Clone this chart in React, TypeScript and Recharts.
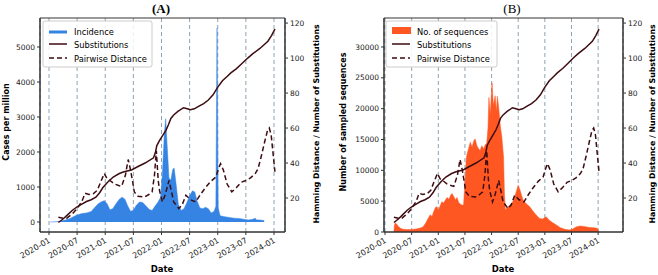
import React from "react";
import { ComposedChart, Area, Line, XAxis, YAxis, CartesianGrid, ReferenceArea } from "recharts";

type Pt = [number, number];

// x values are months since 2020-01
const monthTicks = [0, 6, 12, 18, 24, 30, 36, 42, 48];
const monthLabels = ["2020-01", "2020-07", "2021-01", "2021-07", "2022-01", "2022-07", "2023-01", "2023-07", "2024-01"];

const casesTicks = [0, 1000, 2000, 3000, 4000, 5000];
const seqTicks = [0, 5000, 10000, 15000, 20000, 25000, 30000];
const distTicks = [20, 40, 60, 80, 100, 120];

const incidence: Pt[] = [
  [0.2, 0], [1.5, 5], [2.5, 20], [3.5, 60], [4.5, 100], [5.5, 170], [6, 200], [7, 240], [8, 260], [9, 300],
  [9.8, 420], [10.5, 520], [11.2, 580], [11.8, 610], [12.4, 520], [13, 350], [13.6, 380], [14.3, 520], [15, 650],
  [15.6, 710], [16.2, 650], [16.8, 460], [17.4, 310], [18, 330], [18.6, 470], [19.3, 570], [20, 560], [20.7, 460],
  [21.4, 360], [22, 330], [22.6, 450], [23.2, 560], [23.8, 700], [24.2, 1400], [24.6, 2500], [24.9, 2950],
  [25.2, 2200], [25.6, 1250], [26, 1200], [26.4, 1500], [26.7, 1540], [27.1, 1100], [27.6, 500], [28.2, 330],
  [28.8, 380], [29.4, 550], [30, 750], [30.6, 890], [31.1, 860], [31.6, 600], [32.2, 400], [32.8, 380], [33.4, 420],
  [34, 380], [34.6, 260], [35.2, 300], [35.6, 450], [35.85, 5540], [36.1, 400], [36.5, 180], [37.5, 150],
  [38.5, 130], [39.5, 110], [40.5, 100], [41.5, 80], [42.5, 60], [43.5, 80], [44, 110], [44.3, 60], [45, 60], [45.9, 40],
];

const sequences: Pt[] = [
  [2.0, 0], [2.1, 1000], [2.3, 1500], [2.6, 1300], [3.0, 900], [3.5, 600], [4, 450], [5, 400], [6, 420], [7, 480],
  [8, 650], [8.6, 860], [9.2, 1500], [9.7, 2200], [10.2, 2800], [10.6, 2500], [11, 3400], [11.4, 4000], [11.7, 4100],
  [12, 3500], [12.4, 4200], [12.8, 4900], [13.2, 4700], [13.6, 5200], [14, 5600], [14.4, 5300], [14.8, 6000],
  [15.1, 6240], [15.5, 5700], [15.9, 5200], [16.2, 5600], [16.6, 4800], [17, 4500], [17.4, 4350], [17.7, 4400],
  [18.0, 8000], [18.3, 12000], [18.5, 12700], [18.8, 13500], [19.2, 14560], [19.6, 13800], [20, 14800],
  [20.3, 15100], [20.7, 14000], [21, 13600], [21.4, 13200], [21.8, 14000], [22.2, 13500], [22.6, 14200],
  [22.9, 14300], [23.2, 17000], [23.4, 21800], [23.7, 19000], [24.1, 24200], [24.4, 20500], [24.8, 22100],
  [25.1, 19500], [25.3, 22000], [25.6, 20200], [26, 17000], [26.3, 15500], [26.7, 12150], [26.9, 6000],
  [27.1, 3550], [27.6, 4000], [28, 4300], [28.5, 4630], [29, 5200], [29.5, 6400], [30, 7580], [30.4, 6800],
  [31.1, 5160], [31.8, 4600], [32.6, 4090], [33.3, 3400], [34, 2800], [34.8, 2200], [35.5, 2100], [36.3, 2470],
  [37, 1900], [37.8, 1500], [38.6, 1130], [39.5, 700], [40.5, 450], [41.6, 320], [42.3, 500], [43, 800],
  [43.9, 970], [44.8, 900], [45.5, 800], [46.1, 750], [47, 700], [47.8, 600], [48.1, 200],
];

const substitutions: Pt[] = [
  [2, 6], [3, 8], [4, 10.5], [5, 13], [6, 15], [7, 16.5], [8, 18], [9, 19], [10, 20.5], [10.8, 23], [11.5, 26],
  [12.5, 29], [13.7, 32], [15, 34], [16, 35], [17.6, 36], [19, 38], [20.5, 40], [22.3, 43], [22.7, 46], [23, 50],
  [23.6, 53], [24.3, 56], [25, 59], [25.5, 62], [26, 65.5], [26.6, 67.5], [27.5, 69.5], [28.7, 71.6], [29.5, 71],
  [30.2, 70.5], [31, 71], [32, 72.5], [33, 74], [34, 76], [35, 79], [35.9, 83], [37, 87], [38, 89.5], [38.8, 91.5],
  [40, 94], [41, 96.5], [42.4, 100], [43.5, 102.5], [45, 105.5], [46.7, 109.6], [47.5, 113], [48.2, 116.5],
];

const pairwise: Pt[] = [
  [2, 9], [3, 8.5], [3.8, 8.5], [5, 11], [6, 14], [7, 18], [7.7, 22.7], [8.5, 22], [9.5, 22.5], [10.3, 24.4],
  [11, 29], [11.8, 34], [12.4, 31], [13, 30], [14, 28], [15, 27], [15.5, 26.7], [16.3, 33], [16.9, 42], [17.4, 36],
  [17.8, 30], [18.2, 23.5], [19, 21], [20.4, 20.6], [21.3, 22], [22, 23.5], [22.5, 33], [22.9, 47], [23.3, 30],
  [23.6, 24], [24.2, 17.8], [24.8, 22], [25.6, 30], [26.1, 24], [26.6, 17.8], [27.7, 14], [28.4, 16], [29.2, 21.6],
  [30.2, 19], [31.3, 17.8], [32.3, 22], [33.4, 26], [34.5, 29.5], [35.6, 32], [36.2, 37], [36.6, 39.6], [37.2, 36],
  [38, 28], [39, 23.5], [40, 26], [41, 29], [42, 30], [43, 31.5], [44, 34], [44.6, 36.7], [45.3, 44], [46, 52],
  [46.6, 58.5], [47, 60], [47.4, 56], [48.2, 35],
];

const BLUE = "#3584e4";
const ORANGE = "#ff5722";
const LINE = "#3d0d12";
const AXIS = "#333";
const GRID = "#8ea3b3";

function merge(series: Record<string, Pt[]>) {
  const rows = new Map<number, any>();
  for (const [key, pts] of Object.entries(series)) {
    for (const [m, v] of pts) {
      const r = rows.get(m) ?? { m };
      r[key] = v;
      rows.set(m, r);
    }
  }
  return [...rows.values()].sort((a, b) => a.m - b.m);
}

const dataA = merge({ fill: incidence, sub: substitutions, pd: pairwise });
const dataB = merge({ fill: sequences, sub: substitutions, pd: pairwise });

const DateTick = (props: any) => {
  const { x, y, payload } = props;
  const label = monthLabels[monthTicks.indexOf(payload.value)];
  return (
    <g transform={`translate(${x + 2},${y + 5})`}>
      <text textAnchor="end" transform="rotate(-30)" fontSize={8} fill="#222">
        {label}
      </text>
    </g>
  );
};

interface PanelProps {
  data: any[];
  xDomain: [number, number];
  leftDomain: [number, number];
  leftTicks: number[];
  leftWidth: number;
  rightWidth: number;
  color: string;
}

function Panel({ data, xDomain, leftDomain, leftTicks, leftWidth, rightWidth, color }: PanelProps) {
  const rightDomain: [number, number] = [0.57, 122.9];
  return (
    <ComposedChart
      width={329}
      height={275}
      data={data}
      margin={{ top: 18, right: 0, bottom: 0, left: 0 }}
      style={{ fontFamily: "DejaVu Sans" }}
    >
      <CartesianGrid yAxisId="left" horizontal={false} strokeDasharray="4 3" stroke={GRID} />
      <XAxis
        dataKey="m"
        type="number"
        domain={xDomain}
        allowDataOverflow
        ticks={monthTicks}
        interval={0}
        height={43}
        tick={<DateTick />}
        tickSize={3}
        axisLine={{ stroke: AXIS }}
        tickLine={{ stroke: AXIS }}
      />
      <YAxis
        yAxisId="left"
        width={leftWidth}
        domain={leftDomain}
        allowDataOverflow
        ticks={leftTicks}
        interval={0}
        tickSize={3}
        tickMargin={2}
        tick={{ fontSize: 7.5, fill: "#222" }}
        axisLine={{ stroke: AXIS }}
        tickLine={{ stroke: AXIS }}
      />
      <YAxis
        yAxisId="right"
        orientation="right"
        width={rightWidth}
        domain={rightDomain}
        allowDataOverflow
        ticks={distTicks}
        interval={0}
        tickSize={3}
        tickMargin={2}
        tick={{ fontSize: 7.5, fill: "#222" }}
        axisLine={{ stroke: AXIS }}
        tickLine={{ stroke: AXIS }}
      />
      <Area
        yAxisId="left"
        type="linear"
        dataKey="fill"
        stroke={color}
        strokeWidth={0.5}
        fill={color}
        fillOpacity={1}
        connectNulls
        isAnimationActive={false}
      />
      <Line
        yAxisId="right"
        type="linear"
        dataKey="sub"
        stroke={LINE}
        strokeWidth={1.5}
        dot={false}
        connectNulls
        isAnimationActive={false}
      />
      <Line
        yAxisId="right"
        type="linear"
        dataKey="pd"
        stroke={LINE}
        strokeWidth={1.5}
        strokeDasharray="5 3"
        dot={false}
        connectNulls
        isAnimationActive={false}
      />
      <ReferenceArea
        yAxisId="left"
        x1={xDomain[0]}
        x2={xDomain[1]}
        y1={leftDomain[0]}
        y2={leftDomain[1]}
        fill="none"
        stroke={AXIS}
        ifOverflow="extendDomain"
      />
    </ComposedChart>
  );
}

function LegendBox({ x, y, first, patch }: { x: number; y: number; first: string; patch: "line" | "rect" }) {
  return (
    <g>
      <rect x={x} y={y} width={patch === "rect" ? 111 : 109} height={46} rx={2} fill="#fff" fillOpacity={0.85} stroke="#ccc" />
      {patch === "line" ? (
        <line x1={x + 6} x2={x + 24} y1={y + 11} y2={y + 11} stroke={BLUE} strokeWidth={3} />
      ) : (
        <rect x={x + 6} y={y + 6} width={19} height={7} fill={ORANGE} />
      )}
      <text x={x + 31} y={y + 14} fontSize={8.3}>{first}</text>
      <line x1={x + 6} x2={x + 24} y1={y + 23} y2={y + 23} stroke={LINE} strokeWidth={1.5} />
      <text x={x + 31} y={y + 26.5} fontSize={8.3}>Substitutions</text>
      <line x1={x + 6} x2={x + 24} y1={y + 37} y2={y + 37} stroke={LINE} strokeWidth={1.5} strokeDasharray="5 3" />
      <text x={x + 31} y={y + 40.5} fontSize={8.3}>Pairwise Distance</text>
    </g>
  );
}

export default function App() {
  const rightLabel = "Hamming Distance / Number of Substitutions";
  return (
    <div style={{ position: "absolute", left: 0, top: 0, width: 658, height: 275, background: "#fff" }}>
      <div style={{ position: "absolute", left: 0, top: 0 }}>
        <Panel
          data={dataA}
          xDomain={[-1.92, 50.35]}
          leftDomain={[-286, 5829]}
          leftTicks={casesTicks}
          leftWidth={40}
          rightWidth={44}
          color={BLUE}
        />
      </div>
      <div style={{ position: "absolute", left: 329, top: 0 }}>
        <Panel
          data={dataB}
          xDomain={[-0.23, 53.6]}
          leftDomain={[0, 34700]}
          leftTicks={seqTicks}
          leftWidth={55}
          rightWidth={35}
          color={ORANGE}
        />
      </div>
      <svg
        width={658}
        height={275}
        style={{ position: "absolute", left: 0, top: 0, pointerEvents: "none", fontFamily: "DejaVu Sans" }}
      >
        <text x={161} y={13} textAnchor="middle" fontSize={13} fontWeight="bold" fontFamily="Liberation Serif">(A)</text>
        <text x={512} y={13} textAnchor="middle" fontSize={13} fontFamily="Liberation Serif">(B)</text>
        <text x={162} y={272} textAnchor="middle" fontSize={8.5} fontWeight="bold">Date</text>
        <text x={503} y={272} textAnchor="middle" fontSize={8.5} fontWeight="bold">Date</text>
        <text transform="translate(9,122) rotate(-90)" textAnchor="middle" fontSize={8} fontWeight="bold">Cases per million</text>
        <text transform="translate(346,122) rotate(-90)" textAnchor="middle" fontSize={8} fontWeight="bold">Number of sampled sequences</text>
        <text transform="translate(319,124) rotate(-90)" textAnchor="middle" fontSize={7.8} fontWeight="bold">{rightLabel}</text>
        <text transform="translate(655,124) rotate(-90)" textAnchor="middle" fontSize={7.8} fontWeight="bold">{rightLabel}</text>
        <LegendBox x={43} y={21} first="Incidence" patch="line" />
        <LegendBox x={386} y={21} first="No. of sequences" patch="rect" />
      </svg>
    </div>
  );
}
